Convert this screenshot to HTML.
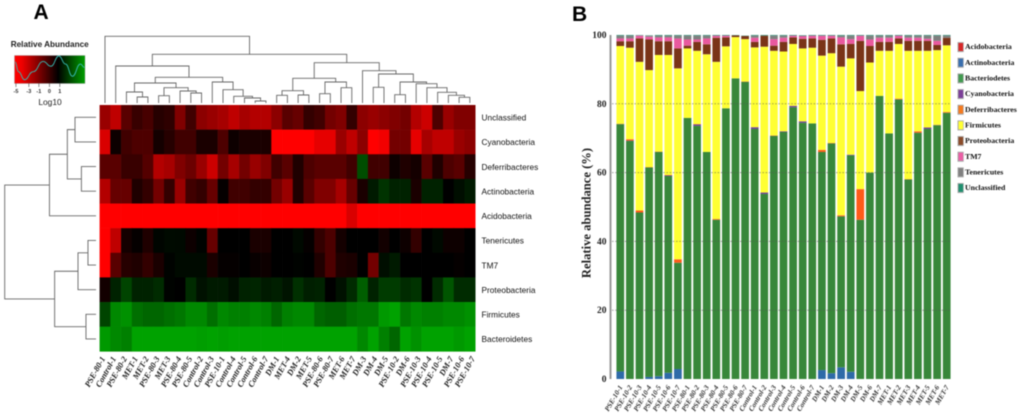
<!DOCTYPE html>
<html lang="en">
<head>
<meta charset="utf-8">
<title>Relative abundance heatmap and stacked bars</title>
<style>
html,body{margin:0;padding:0;background:#fff;width:1020px;height:420px;overflow:hidden}
svg{display:block;filter:blur(.45px)}
.hm-row{font:8.3px "Liberation Sans",sans-serif;fill:#111}
.hm-col{font:italic bold 8.4px "Liberation Serif",serif;fill:#222}
.br-col{font:italic bold 7.2px "Liberation Serif",serif;fill:#333}
.tick{font:bold 9.5px "Liberation Serif",serif;fill:#222}
.leg{font:bold 7.8px "Liberation Serif",serif;fill:#111}
.panel{font:bold 21px "Liberation Sans",sans-serif;fill:#000}
</style>
</head>
<body>
<svg id="chart" xmlns="http://www.w3.org/2000/svg" width="1020" height="420" viewBox="0 0 1020 420">
  <rect width="1020" height="420" fill="#fff"/>
  <text class="panel" x="33.5" y="19">A</text>
  <text class="panel" x="572" y="21">B</text>
  <defs>
    <linearGradient id="keyGrad" x1="0" x2="1" y1="0" y2="0">
      <stop offset="0" stop-color="#ff0000"/>
      <stop offset=".1" stop-color="#f00000"/>
      <stop offset=".62" stop-color="#000000"/>
      <stop offset="1" stop-color="#00a000"/>
    </linearGradient>
  </defs>
  <g id="colorKey">
    <text x="49.7" y="47" text-anchor="middle" style="font:bold 8.2px 'Liberation Sans',sans-serif;fill:#222">Relative Abundance</text>
    <rect x="14.5" y="55.5" width="70.5" height="28" fill="url(#keyGrad)" stroke="#999" stroke-width=".4"/>
    <text x="50" y="105" text-anchor="middle" style="font:8.4px 'Liberation Sans',sans-serif;fill:#222">Log10</text>
  </g>
  <g id="topDend" fill="none" stroke="#666" stroke-width=".9"></g>
  <g id="leftDend" fill="none" stroke="#666" stroke-width=".9"></g>
  <g id="heat"></g>
  <g id="heatRows"></g>
  <g id="heatCols"></g>
  <g id="bars"></g>
  <g id="grid"></g>
  <g id="yAxis"></g>
  <text transform="translate(590.5,213) rotate(-90)" text-anchor="middle" style="font:bold 12.6px 'Liberation Serif',serif;fill:#222">Relative abundance (%)</text>
  <g id="barCols"></g>
  <g id="legend"></g>
</svg>
<script>
// ---------- Heatmap data ----------
const heatRowNames = ["Unclassified","Cyanobacteria","Deferribacteres","Actinobacteria","Acidobacteria","Tenericutes","TM7","Proteobacteria","Firmicutes","Bacteroidetes"];
const heatColNames = ["PSE-80-1","Control-1","PSE-80-2","MET-1","MET-2","PSE-80-3","MET-3","PSE-80-4","PSE-80-5","Control-2","Control-3","PSE-10-1","Control-4","Control-5","Control-6","Control-7","DM-1","MET-4","DM-2","MET-5","PSE-80-6","PSE-80-7","MET-6","MET-7","DM-3","DM-4","DM-5","PSE-10-2","DM-6","PSE-10-3","PSE-10-4","PSE-10-5","DM-7","PSE-10-6","PSE-10-7"];
const heatUnclassified = [.6,.75,.35,.22,.28,.15,.18,.5,.25,.55,.6,.65,.75,.65,.7,.7,.55,.35,.4,.2,.25,.45,.5,.2,.55,.6,.55,.5,.45,.7,.8,.3,.6,.5,.5];
const heatCyano = [.85,.05,.25,.3,.3,.08,.15,.25,.25,.1,.1,.3,.05,.1,.1,.1,1,1,1,1,.9,.9,.6,.75,.55,1,.95,.45,.45,.9,.65,.75,.75,.6,.55];
const heatDeferri = [.35,.35,.22,.22,.33,.7,.65,.5,.42,.6,.8,.45,.65,.45,.6,.5,.25,.35,.12,.3,.35,.35,.35,.25,-.45,.25,.25,.05,.12,.08,.35,.12,.3,.35,.15];
const heatActino = [.7,.4,.4,.12,.2,.45,.2,.6,.25,.2,.4,.02,.25,.25,.2,.2,.45,.6,.12,.35,.5,.5,.65,.4,.1,-.15,-.3,-.2,-.2,.1,-.2,-.2,0,-.08,-.15];
const heatAcido = [1,1,1,1,1,1,1,1,1,1,1,1,1,1,1,1,1,1,1,1,1,1,1,.85,1,1,1,1,1,1,1,1,1,1,1];
const heatTeneric = [1,.75,.08,.02,.12,-.03,-.06,-.05,.05,-.02,.4,0,0,0,.1,.1,0,0,-.05,.02,.2,.3,.08,0,0,0,.07,0,.05,.2,0,-.05,.05,.05,0];
const heatTM7 = [1,.35,.15,.12,.2,.1,-.02,-.06,-.06,-.06,.1,.02,.02,0,.03,.05,0,0,-.02,0,.12,.3,.12,.1,0,.45,-.08,-.15,0,0,0,0,0,.02,0];
const heatProteo = [.07,-.2,-.4,-.2,-.2,-.25,-.02,0,-.25,-.1,-.15,-.15,-.08,-.2,-.22,-.15,-.18,-.12,-.28,-.18,-.2,0,-.1,-.25,-.55,-.2,-.35,-.35,-.25,-.3,0,-.25,-.5,-.25,-.25];
const heatFirmi = [-.4,-.8,-.85,-.65,-.6,-.6,-.65,-.7,-.8,-.8,-.65,-.8,-.75,-.75,-.8,-.75,-.6,-.75,-.8,-.8,-.6,-.55,-.55,-.65,-.7,-.7,-.9,-.95,-.7,-.8,-.75,-.75,-.8,-.8,-.85];
const heatBacteroid = [-.9,-.8,-.75,-.95,-.95,-.95,-.95,-.95,-.95,-.93,-.95,-.93,-.95,-.95,-.95,-.95,-.95,-.95,-.95,-.95,-.95,-.95,-.95,-.95,-.8,-.95,-.75,-.6,-.95,-.85,-.95,-.95,-.95,-.9,-.95];
const heatMatrix = [heatUnclassified,heatCyano,heatDeferri,heatActino,heatAcido,heatTeneric,heatTM7,heatProteo,heatFirmi,heatBacteroid];

// dendrogram merges: [height, left, right]; a plain number is a leaf index
const colTree = [100,0,[73,[55.5,1,[38.5,[30,[16.5,2,[9,3,4]],[23,[11,5,6],[18,7,[15,8,9]]]],[31.5,10,[20,11,[10,12,[7.5,13,[3,14,15]]]]]]],[60.5,[37,[18.5,[11.5,16,17],[12,18,19]],[31.5,[14,20,21],[23,22,23]]],[48.5,24,[43.5,[23.5,25,26],[31.5,[12.5,27,28],[29,29,[23,30,[16,31,[11.5,32,[8.5,33,34]]]]]]]]]]];
const rowTree = [100,[51,4,[31.4,[23,0,1],[16,2,3]]],[45.3,[19.7,7,[8.8,5,6]],[11,8,9]]];

// color key
const keyTicks = ["-5","-3","-1","0","1"];
const keyTickValues = [-1.05,-.6,-.25,.12,.48];
const keyDensityX = [-1.08,-.96,-.75,-.45,-.1,.17,.45,.68,.92,1.2,1.34];
const keyDensityY = [.78,.42,.12,.42,.8,.62,1,.7,.25,.7,.58];

// ---------- Stacked bar data ----------
const barNames = ["PSE-10-1","PSE-10-2","PSE-10-3","PSE-10-4","PSE-10-5","PSE-10-6","PSE-10-7","PSE-80-1","PSE-80-2","PSE-80-3","PSE-80-4","PSE-80-5","PSE-80-6","PSE-80-7","Control-1","Control-2","Control-3","Control-4","Control-5","Control-6","Control-7","DM-1","DM-2","DM-3","DM-4","DM-5","DM-6","DM-7","MET-1","MET-2","MET-3","MET-4","MET-5","MET-6","MET-7"];
const actino = [2.2,0,0,.6,.8,1.8,2.9,0,0,0,0,0,0,0,0,0,0,0,0,0,0,2.6,1.7,3.4,2.1,0,0,0,0,0,0,0,0,0,0];
const bacteroid = [71.9,69.2,48.4,60.9,65.2,57.2,30.9,75.9,73.6,66,46.3,78.7,87.4,86.4,72.7,53.8,70.7,71.8,79,74.5,74.3,63.4,66.8,43.9,62.9,46.3,60,82.3,71.4,81.3,58,71.6,72.7,73.8,77.4];
const cyano = [0,.1,0,0,0,.2,0,0,.4,0,0,0,0,0,.5,.4,0,.2,.4,.4,0,0,0,0,.2,0,0,0,0,0,0,0,.4,0,0];
const deferri = [.1,.4,.6,.1,.1,.1,1,0,.1,0,.2,0,0,.1,0,0,.1,0,0,0,0,.6,.1,.3,0,8.9,0,0,0,.2,.1,.4,0,.1,.2];
const firmi = [22.6,26.6,43.2,28.2,28.1,34.9,55.5,20.2,21.3,28.4,45.7,18,12,12.3,23.2,42.4,24.6,23.2,18,21.2,22,27.4,26.1,43.2,28,28.5,32,13.1,24,15.9,37.3,23.4,22.3,21.7,19.4];
const proteo = [1.4,1.9,6.8,8.9,4,4,5.8,.8,2.6,2.9,7,2.6,.5,.9,1.6,3.2,1.5,2.8,1.9,2.8,2.7,4.6,4.3,6.5,4.2,14.6,4.8,2.6,2.6,1.6,2.9,2.9,2.9,1.5,2.2];
const tm7 = [.8,.8,.8,.8,1.1,1.1,2.9,1.8,.7,1.7,.6,.5,0,0,1.2,0,1.9,1.2,.5,.8,.8,1.2,.8,2,1.4,1.5,1.9,1.2,1.2,.8,.9,.9,.6,1.2,0];
const teneric = [.8,.8,.1,.3,.5,.5,.8,1.1,1.1,.8,0,0,0,0,.6,0,1,.6,0,0,0,0,0,.5,1,0,1.1,.6,.6,0,.6,.6,.9,1.5,.6];
const unclassified = [.2,.2,.1,.1,.2,.2,.2,.2,.2,.2,.2,.2,.1,.1,.2,.2,.2,.2,.2,.2,.2,.2,.2,.2,.2,.2,.2,.2,.2,.2,.2,.2,.2,.2,.2];
const acido = [0,0,0,0,0,0,0,0,0,0,0,0,0,0,0,0,0,0,0,0,0,0,0,0,0,0,0,0,0,0,0,0,0,0,0];
const seriesNames = ["Actinobacteria","Bacteriodetes","Cyanobacteria","Deferribacteres","Firmicutes","Proteobacteria","TM7","Tenericutes","Unclassified","Acidobacteria"];
const seriesValues = [actino,bacteroid,cyano,deferri,firmi,proteo,tm7,teneric,unclassified,acido];
const seriesColors = ["#2e6aa8","#38873a","#6b3a96","#ff5a1a","#ffff33","#7a3418","#e9599f","#7f7f7f","#2a8a70","#d62728"];
const yTicks = [0,20,40,60,80,100];
const legendNames = ["Acidobacteria","Actinobacteria","Bacteriodetes","Cyanobacteria","Deferribacteres","Firmicutes","Proteobacteria","TM7","Tenericutes","Unclassified"];
const legendColors = ["#d62728","#3a6fae","#419a50","#7b3f98","#f47a20","#ffff33","#8a4b2a","#ea5fa5","#808080","#1f8f6f"];

// ---------- Helpers ----------
const NS = "http://www.w3.org/2000/svg";
function make(tag, parent, props, text){
  const el = document.createElementNS(NS, tag);
  for (const k in props) el.setAttribute(k, props[k]);
  if (text !== undefined) el.textContent = text;
  parent.appendChild(el);
  return el;
}
const byId = id => document.getElementById(id);

// ---------- Heatmap scales ----------
const hmLeft = 99.6, hmTop = 105, cellW = 375.6/heatColNames.length, cellH = 24.63;
const colX = i => hmLeft + cellW*i;
const rowY = i => hmTop + cellH*i;
const colMid = i => colX(i) + cellW/2;
const rowMid = i => rowY(i) + cellH/2;
function heatColor(v){
  return v >= 0 ? `rgb(${Math.round(255*Math.min(v,1))},0,0)` : `rgb(0,${Math.round(170*Math.min(-v,1))},0)`;
}

// heatmap cells
heatMatrix.forEach((row, r) => row.forEach((v, c) => {
  const cell = make("rect", byId("heat"), {x:colX(c), y:rowY(r), width:cellW+.3, height:cellH+.3, fill:heatColor(v)});
  
  
}));

// row labels
heatRowNames.forEach((name, r) => {
  const t = make("text", byId("heatRows"), {class:"hm-row", x:481.5, y:rowMid(r)+3.2}, name);
  
  
});

// column labels
heatColNames.forEach((name, c) => {
  const x = 105.5 + c*(10.88);
  const t = make("text", byId("heatCols"), {class:"hm-col", "text-anchor":"end", transform:`translate(${x},358.5) rotate(-61)`}, name);
  
  
});

// dendrograms
const topY = h => 103 - h*0.6667;
const leftX = h => 96 - h*0.913;
function drawTop(node, g){
  if (typeof node === "number") return {x:colMid(node), y:103};
  const a = drawTop(node[1], g), b = drawTop(node[2], g), y = topY(node[0]);
  const p = make("path", g, {d:`M${a.x} ${a.y}V${y}H${b.x}V${b.y}`});
  
  
  return {x:(a.x+b.x)/2, y:y};
}
function drawLeft(node, g){
  if (typeof node === "number") return {x:96, y:rowMid(node)};
  const a = drawLeft(node[1], g), b = drawLeft(node[2], g), x = leftX(node[0]);
  const p = make("path", g, {d:`M${a.x} ${a.y}H${x}V${b.y}H${b.x}`});
  
  
  return {x:x, y:(a.y+b.y)/2};
}
drawTop(colTree, byId("topDend"));
drawLeft(rowTree, byId("leftDend"));

// color key
const keyX = v => 14.5 + (v+1.1)/(1.36+1.1)*70.5;
const keyY = d => 83 - d*27;
keyTicks.forEach((label, i) => {
  const x = keyX(keyTickValues[i]);
  const tk = make("line", byId("colorKey"), {x1:x, x2:x, y1:83.5, y2:87, stroke:"#444", "stroke-width":.6});
  
  
  const t = make("text", byId("colorKey"), {x:x, y:93, "text-anchor":"middle", style:"font:bold 5.5px 'Liberation Sans',sans-serif;fill:#333"}, label);
  
  
});
let keyPath = "";
keyDensityX.forEach((v, i) => {
  const x = keyX(v), y = keyY(keyDensityY[i]);
  if (i === 0) { keyPath = `M${x} ${y}`; return; }
  const px = keyX(keyDensityX[i-1]), py = keyY(keyDensityY[i-1]), mx = (px+x)/2;
  keyPath += `C${mx} ${py} ${mx} ${y} ${x} ${y}`;
});
const keyCurve = make("path", byId("colorKey"), {d:keyPath, fill:"none", stroke:"#36b7b0", "stroke-width":.9});



// ---------- Bar scales ----------
const barY = v => 379 - v*3.44;
const barMid = i => 620.3 + i*9.6;
const barW = 7.7;

barNames.forEach((name, i) => {
  let cum = 0;
  seriesValues.forEach((vals, s) => {
    const v = vals[i];
    if (v <= 0) return;
    const seg = make("rect", byId("bars"), {x:barMid(i)-barW/2, y:barY(cum+v), width:barW, height:v*3.44, fill:seriesColors[s]});
    
    
    cum += v;
  });
  const t = make("text", byId("barCols"), {class:"br-col", "text-anchor":"end", transform:`translate(${barMid(i)+2.5},387) rotate(-60)`}, name);
  
  
});

// gridlines and y axis
yTicks.forEach(v => {
  if (v > 0 && v < 100) {
    const g = make("line", byId("grid"), {x1:612, x2:951, y1:barY(v), y2:barY(v), stroke:"#555", "stroke-opacity":.55, "stroke-width":1, "stroke-dasharray":"1.6 1.6"});
    
    
  }
  const t = make("text", byId("yAxis"), {class:"tick", x:606.5, y:barY(v)+3, "text-anchor":"end"}, v);
  
  
});
const axisLine = make("line", byId("yAxis"), {x1:610.5, x2:610.5, y1:barY(100), y2:barY(0), stroke:"#999", "stroke-width":2});



// legend
legendNames.forEach((name, i) => {
  const y = 46.8 + i*15.66;
  const shadow = make("rect", byId("legend"), {x:957.5, y:y-4.7, width:6.2, height:10, fill:"#aaa"});
  
  
  const sw = make("rect", byId("legend"), {x:958.5, y:y-3.8, width:4.6, height:8, fill:legendColors[i]});
  
  
  const t = make("text", byId("legend"), {class:"leg", x:965, y:y+2.4}, name);
  
  
});
</script>
</body>
</html>
